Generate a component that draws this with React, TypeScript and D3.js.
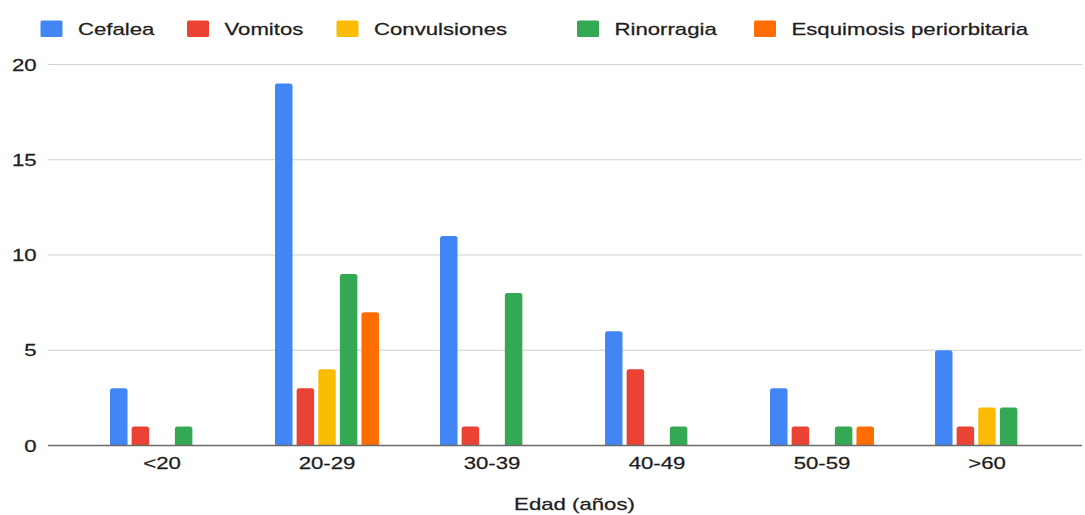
import React from "react";
import * as d3 from "d3";

// Age groups on the x axis
const categories = ["<20", "20-29", "30-39", "40-49", "50-59", ">60"];

// Symptom series (counts per age group)
const seriesNames = ["Cefalea", "Vomitos", "Convulsiones", "Rinorragia", "Esquimosis periorbitaria"];
const cefalea = [3, 19, 11, 6, 3, 5];
const vomitos = [1, 3, 1, 4, 1, 1];
const convulsiones = [0, 4, 0, 0, 0, 2];
const rinorragia = [1, 9, 8, 1, 1, 2];
const esquimosis = [0, 7, 0, 0, 1, 0];
const seriesValues = [cefalea, vomitos, convulsiones, rinorragia, esquimosis];
const seriesColors = ["#4285F4", "#EA4335", "#FBBC04", "#34A853", "#FF6D01"];

const yTicks = [0, 5, 10, 15, 20];
const xTitle = "Edad (años)";

// Legend item left edges
const legendX = [40.5, 187, 336.5, 577, 754];

const W = 1085;
const H = 515;
const FONT = "'Liberation Sans', Arial, sans-serif";
const TEXT = "#1e1e1e";
const SX = 1.37; // horizontal text stretch
const FS = 16.2;

function topRoundedBar(x: number, y: number, w: number, h: number, r: number) {
  if (h <= 0) return "";
  const rr = Math.min(r, h, w / 2);
  return `M${x},${y + h}V${y + rr}Q${x},${y} ${x + rr},${y}H${x + w - rr}Q${x + w},${y} ${x + w},${y + rr}V${y + h}Z`;
}

const textStyle = {
  fontSize: FS,
  fill: TEXT,
  stroke: TEXT,
  strokeWidth: 0.25,
} as const;

export default function App() {
  const x0 = d3
    .scaleBand<string>()
    .domain(categories)
    .range([79.5, 1069.5])
    .paddingInner(0.37)
    .paddingOuter(0.185);
  const x1 = d3
    .scaleBand<string>()
    .domain(seriesNames)
    .range([0, x0.bandwidth()])
    .paddingInner(0.19)
    .paddingOuter(0);
  const y = d3.scaleLinear().domain([0, 20]).range([445.5, 64.5]);

  const gridLeft = 48;
  const gridRight = 1082;
  const [r0, r1] = x0.range();
  const titleX = (r0 + r1) / 2;

  return (
    <svg
      width={W}
      height={H}
      style={{ position: "absolute", left: 0, top: 0, background: "#ffffff" }}
      fontFamily={FONT}
    >
      <rect x={0} y={0} width={W} height={H} fill="#ffffff" />

      {/* Legend */}
      {seriesNames.map((name, i) => (
        <g key={name}>
          <rect x={legendX[i]} y={20.5} width={22} height={16.5} rx={1.5} fill={seriesColors[i]} />
          <text transform={`translate(${legendX[i] + 37.5},${34.5}) scale(${SX},1)`} style={textStyle}>
            {name}
          </text>
        </g>
      ))}

      {/* Gridlines and y tick labels */}
      {yTicks.map((t) => (
        <g key={t}>
          {t !== 0 && (
            <line x1={gridLeft} x2={gridRight} y1={y(t)} y2={y(t)} stroke="#d0d0d0" strokeWidth={1.2} />
          )}
          <text
            transform={`translate(${36.7},${y(t) + 6}) scale(${SX},1)`}
            style={textStyle}
            textAnchor="end"
          >
            {t}
          </text>
        </g>
      ))}

      {/* Bars */}
      {categories.map((c, ci) => (
        <g key={c} transform={`translate(${x0(c)},0)`}>
          {seriesNames.map((s, si) => {
            const v = seriesValues[si][ci];
            if (!v) return null;
            const bx = x1(s) as number;
            const by = y(v);
            return (
              <path
                key={s}
                d={topRoundedBar(bx, by, x1.bandwidth(), y(0) - by, 2.5)}
                fill={seriesColors[si]}
              />
            );
          })}
        </g>
      ))}

      {/* Baseline */}
      <line x1={gridLeft} x2={gridRight} y1={y(0)} y2={y(0)} stroke="#6a6a6a" strokeWidth={1.6} />

      {/* X tick labels */}
      {categories.map((c) => (
        <text
          key={c}
          transform={`translate(${(x0(c) as number) + x0.bandwidth() / 2},${468.5}) scale(${SX},1)`}
          style={textStyle}
          textAnchor="middle"
        >
          {c}
        </text>
      ))}

      {/* X axis title */}
      <text
        transform={`translate(${titleX},${509.5}) scale(${SX},1)`}
        style={textStyle}
        textAnchor="middle"
      >
        {xTitle}
      </text>
    </svg>
  );
}
